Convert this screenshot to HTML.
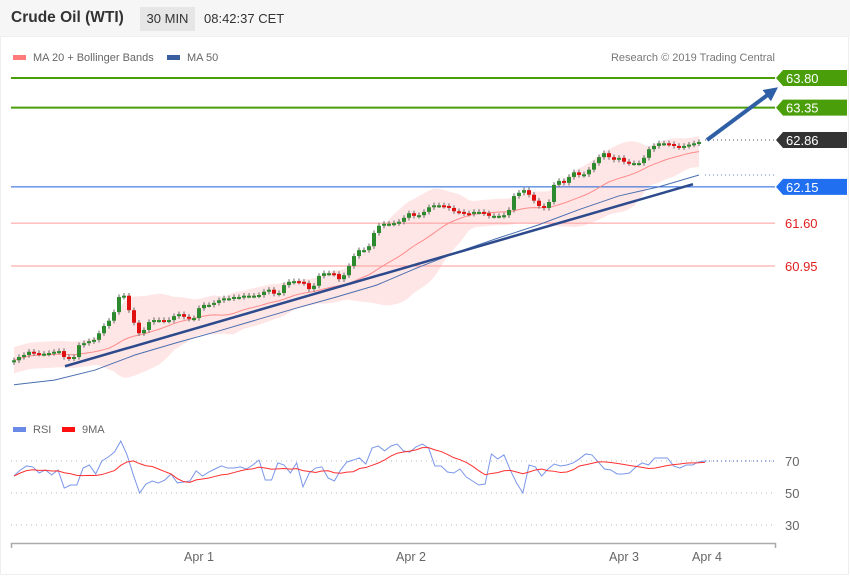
<!DOCTYPE html>
<html><head><meta charset="utf-8"><style>
body{margin:0;background:#fff;font-family:"Liberation Sans",sans-serif;}
#wrap{position:relative;width:850px;height:576px;overflow:hidden;background:#fff}
#hdr{position:absolute;left:0;top:0;width:850px;height:36px;background:#f6f6f6}
.t{position:absolute;white-space:nowrap}
</style></head><body>
<div id="wrap">
<div id="hdr"></div>
<div class="t" style="left:11px;top:9px;font-size:15.5px;font-weight:bold;color:#333">Crude Oil (WTI)</div>
<div class="t" style="left:140px;top:7px;width:55px;height:24px;background:#e6e6e6;font-size:13px;color:#333;line-height:24px;text-align:center">30 MIN</div>
<div class="t" style="left:204px;top:11px;font-size:13px;color:#333">08:42:37 CET</div>
<svg id="svg" width="850" height="576" style="position:absolute;left:0;top:0"></svg>
</div>
<script>
const closes=[59.52,59.57,59.60,59.65,59.63,59.62,59.62,59.63,59.65,59.66,59.57,59.55,59.57,59.75,59.78,59.81,59.83,59.93,60.04,60.12,60.25,60.48,60.50,60.28,60.09,59.93,59.98,60.10,60.13,60.13,60.12,60.13,60.19,60.22,60.18,60.15,60.16,60.31,60.36,60.36,60.39,60.43,60.46,60.46,60.48,60.48,60.50,60.50,60.50,60.51,60.56,60.59,60.53,60.54,60.66,60.71,60.72,60.71,60.69,60.60,60.65,60.80,60.84,60.84,60.83,60.75,60.81,60.95,61.10,61.19,61.19,61.25,61.45,61.56,61.59,61.59,61.60,61.62,61.68,61.75,61.71,61.72,61.77,61.84,61.87,61.87,61.86,61.83,61.78,61.77,61.75,61.74,61.77,61.77,61.75,61.71,61.71,61.71,61.72,61.80,62.01,62.06,62.10,62.03,61.94,61.86,61.83,61.92,62.18,62.24,62.21,62.30,62.37,62.33,62.34,62.41,62.51,62.60,62.66,62.60,62.56,62.59,62.53,62.51,62.51,62.51,62.59,62.72,62.77,62.81,62.81,62.80,62.77,62.75,62.77,62.79,62.81,62.83];
const ma50=[59.15,59.22,59.37,59.60,59.78,59.95,60.13,60.31,60.48,60.66,60.92,61.16,61.37,61.57,61.80,62.01,62.15,62.33];
const rsi=[60.6,64.4,66.9,66.3,62.5,64.4,61.3,64.4,53.1,55,55,65.6,67.5,61.9,70,72.5,75.6,82.5,73.8,61.3,50,55.6,57.5,56.3,58.1,61.9,56.3,56.9,57.5,63.8,60.6,63.1,65,66.9,65.6,65.6,66.3,65,67.5,70.6,58.1,58.1,68.8,67.5,62.5,68.8,53.8,62.5,65.6,66.3,59.4,57.5,64.4,69.4,70.6,71.9,68.1,78.1,79.4,76.3,79.4,80.6,76.3,75.6,78.8,80.6,78.1,66.9,66.9,63.1,62.5,65,60,57.5,55,55.6,74.4,71.3,73.8,64.4,56.3,50,67.5,66.3,60.6,65,68.1,66.9,67.5,68.8,71.3,74.4,73.8,69.4,65,64.4,61.9,61.9,62.5,66.3,68.8,67.5,71.9,71.9,71.9,66.9,65.6,67.5,67.5,69.4,70];
const levels=[63.80,63.35,62.86,62.15,61.60,60.95];
const levelKinds=['green','green','last','blue','red','red'];
const rsiTicks=[70,50,30];
const dateLabels=['Apr 1','Apr 2','Apr 3','Apr 4'];
const dateIdx=[37,79.4,122,138.6];
const trend=[[10.2,59.43],[135.8,62.19]];
const target=[[138.6,62.86],[152.8,63.66]];

const NS='http://www.w3.org/2000/svg',svg=document.getElementById('svg');
function el(t,a,p){const e=document.createElementNS(NS,t);for(const k in a)e.setAttribute(k,a[k]);(p||svg).appendChild(e);return e;}
const X0=14,STEP=5,N=closes.length;
const xs=i=>X0+i*STEP;
const ys=p=>78+(63.80-p)*65.96;
const xr=i=>X0+i*(705-X0)/(rsi.length-1);
const yr=v=>461+(70-v)*1.6;

let g=el('g',{});
el('rect',{x:13,y:55,width:13,height:5,fill:'#ff7b7b'},g);
el('text',{x:33,y:61,'font-size':11,fill:'#666'},g).textContent='MA 20 + Bollinger Bands';
el('rect',{x:167,y:55,width:13,height:5,fill:'#3a5fa0'},g);
el('text',{x:187,y:61,'font-size':11,fill:'#666'},g).textContent='MA 50';
let cr=el('text',{x:775,y:61,'font-size':11,fill:'#777','text-anchor':'end'});cr.textContent='Research © 2019 Trading Central';


const ma20=[],up=[],lo=[];
for(let i=0;i<N;i++){const s=closes.slice(Math.max(0,i-19),i+1);const m=s.reduce((a,b)=>a+b,0)/s.length;
const sd=Math.sqrt(s.reduce((a,b)=>a+(b-m)*(b-m),0)/s.length);ma20.push(m);up.push(m+2*Math.max(sd,0.1));lo.push(m-2*Math.max(sd,0.1));}
let d='M'+up.map((v,i)=>xs(i)+','+ys(v)).join('L')+'L'+lo.map((v,i)=>[i,v]).reverse().map(([i,v])=>xs(i)+','+ys(v)).join('L')+'Z';
let band=el('path',{d,fill:'#ffd6d6',opacity:0.6});

levels.forEach((p,k)=>{const y=ys(p),kind=levelKinds[k];
 const col={green:'#4a9e0a',blue:'#1f5fd6',red:'#ff9a9a',last:'#444'}[kind];
 let ln;
 if(kind==='last')ln=el('line',{x1:705,x2:775,y1:y,y2:y,stroke:'#555','stroke-dasharray':'1,3'});
 else ln=el('line',{x1:11,x2:775,y1:y,y2:y,stroke:col,'stroke-width':kind==='green'?2:1});
 
 if(kind==='red'){let t=el('text',{x:785,y:y+5,'font-size':13,fill:'#e02020'});t.textContent=p.toFixed(2);
  }
 else{const bg={green:'#4a9e0a',blue:'#1f6ff0',last:'#333'}[kind];
  let lg=el('g',{});
  el('path',{d:`M776,${y}L783,${y-8}H847V${y+8}H783Z`,fill:bg},lg);
  el('text',{x:786,y:y+5,'font-size':13,fill:'#fff'},lg).textContent=p.toFixed(2);}
});
let dl=el('line',{x1:705,x2:775,y1:ys(ma50[ma50.length-1]),y2:ys(ma50[ma50.length-1]),stroke:'#6a8acb','stroke-dasharray':'1,3'});


let m20=el('polyline',{points:ma20.map((v,i)=>xs(i)+','+ys(v)).join(' '),fill:'none',stroke:'#ff8a8a','stroke-width':1});

let m50=el('polyline',{points:ma50.map((v,i)=>xs(i*(N-1)/(ma50.length-1))+','+ys(v)).join(' '),fill:'none',stroke:'#4a6fb0','stroke-width':1});


for(let i=0;i<N;i++){const o=i?closes[i-1]:closes[0]-0.03,c=closes[i];const x=xs(i);
 const hi=Math.max(o,c)+0.04,lw=Math.min(o,c)-0.04;const col=c>=o?'#2e8a2e':'#e01010';
 let cg=el('g',{});
 el('line',{x1:x,x2:x,y1:ys(hi),y2:ys(lw),stroke:'#666','stroke-width':1},cg);
 const yt=ys(Math.max(o,c)),h=Math.max(2,ys(Math.min(o,c))-yt);
 el('rect',{x:x-2,y:yt,width:4,height:h,fill:col},cg);}

let tl=el('line',{x1:xs(trend[0][0]),y1:ys(trend[0][1]),x2:xs(trend[1][0]),y2:ys(trend[1][1]),stroke:'#2c4a8c','stroke-width':2.5});

const ax1=xs(target[0][0]),ay1=ys(target[0][1]),ax2=xs(target[1][0]),ay2=ys(target[1][1]);
let ag=el('g',{});
const ang=Math.atan2(ay2-ay1,ax2-ax1);
el('line',{x1:ax1,y1:ay1,x2:ax2-8*Math.cos(ang),y2:ay2-8*Math.sin(ang),stroke:'#2f5fa5','stroke-width':4},ag);
const bx=ax2-14*Math.cos(ang),by=ay2-14*Math.sin(ang);
el('path',{d:`M${ax2},${ay2}L${bx+7*Math.sin(ang)},${by-7*Math.cos(ang)}L${bx-7*Math.sin(ang)},${by+7*Math.cos(ang)}Z`,fill:'#2f5fa5'},ag);

let rl=el('g',{});
el('rect',{x:13,y:427,width:13,height:5,fill:'#6a8ae8'},rl);
el('text',{x:33,y:433,'font-size':11,fill:'#666'},rl).textContent='RSI';
el('rect',{x:62,y:427,width:13,height:5,fill:'#ff1010'},rl);
el('text',{x:82,y:433,'font-size':11,fill:'#666'},rl).textContent='9MA';
rsiTicks.forEach(v=>{let l=el('line',{x1:11,x2:775,y1:yr(v),y2:yr(v),stroke:'#bbb','stroke-dasharray':'1,4'});
 
 let t=el('text',{x:785,y:yr(v)+5,'font-size':13,fill:'#666'});t.textContent=v;
 });
let rdl=el('line',{x1:705,x2:775,y1:yr(rsi[rsi.length-1]),y2:yr(rsi[rsi.length-1]),stroke:'#5a7ae0','stroke-dasharray':'1,3','stroke-width':1.3});

const ma9=rsi.map((v,i)=>{const s=rsi.slice(Math.max(0,i-8),i+1);return s.reduce((a,b)=>a+b,0)/s.length;});
let rp=el('polyline',{points:rsi.map((v,i)=>xr(i)+','+yr(v)).join(' '),fill:'none',stroke:'#7a96ea','stroke-width':1});

let mp=el('polyline',{points:ma9.map((v,i)=>xr(i)+','+yr(v)).join(' '),fill:'none',stroke:'#ff3030','stroke-width':1});


let xa=el('path',{d:'M11.5,548V543.5H775.5V548',fill:'none',stroke:'#aaa','stroke-width':1.5});

dateLabels.forEach((s,k)=>{let t=el('text',{x:xs(dateIdx[k]),y:561,'font-size':12.5,fill:'#666','text-anchor':'middle'});t.textContent=s;
 });
let fr=el('rect',{x:0.5,y:36.5,width:848,height:538,fill:'none',stroke:'#eee'});

</script>
</body></html>
